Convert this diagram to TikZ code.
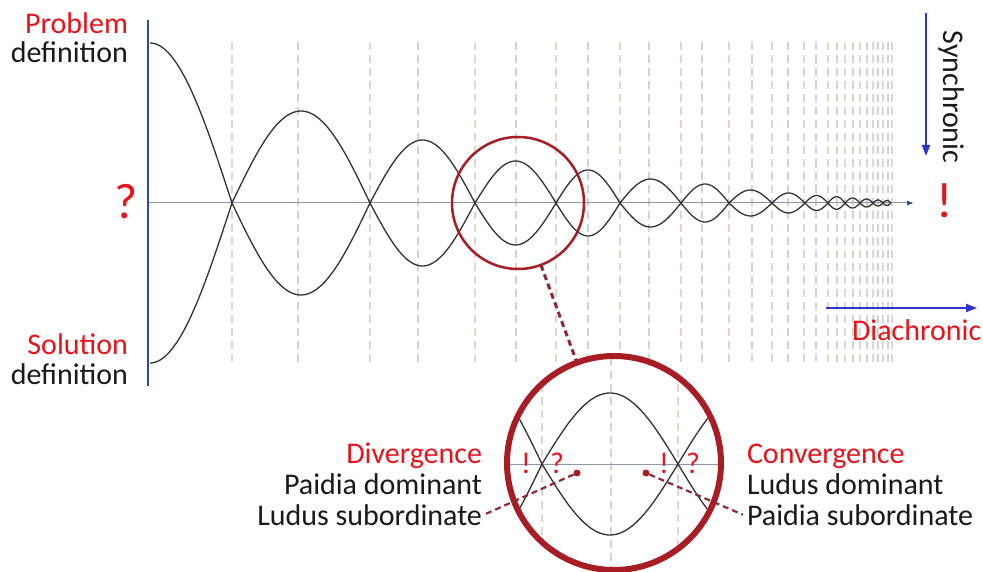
\documentclass[tikz,border=0pt]{standalone}
\usepackage{fontspec}
\setmainfont{Carlito}
\usetikzlibrary{arrows.meta}
\definecolor{txtred}{HTML}{E8141C}
\definecolor{lensred}{HTML}{A81C24}
\definecolor{dashred}{HTML}{8C2A38}
\definecolor{axisblue}{HTML}{2E4F8F}
\definecolor{arrblue}{HTML}{2F35C8}
\definecolor{midaxis}{HTML}{8A98B0}
\definecolor{gridbeige}{HTML}{E0D6CC}
\definecolor{gridgrey}{HTML}{D2D2D2}
\definecolor{wavecol}{HTML}{333333}
\definecolor{txtblack}{HTML}{1A1A1A}
\begin{document}
\begin{tikzpicture}[x=1pt,y=-1pt,
 lbl/.style={font=\fontsize{30}{34}\selectfont, inner sep=0pt, outer sep=0pt, text=txtblack},
 redlbl/.style={lbl, text=txtred},
 bigmark/.style={font=\fontsize{50}{56}\selectfont, inner sep=0pt, text=txtred},
 wave/.style={draw=wavecol, line width=1.3pt, line join=round},
 gridA/.style={draw=gridbeige, line width=1.4pt, dash pattern=on 8pt off 5pt},
 gridB/.style={draw=gridgrey, line width=1.4pt, dash pattern=on 8pt off 5pt},
 flowarrow/.style={draw=arrblue, line width=2pt, -{Triangle[length=11pt,width=8pt]}},
 callout/.style={draw=dashred, line width=2.2pt, dash pattern=on 6pt off 4pt},
 midline/.style={draw=midaxis, line width=1pt},
]
\fill[white] (0,0) rectangle (983,572);
\useasboundingbox (0,0) rectangle (983,572);

% dashed grid lines
\foreach \gx in {232,370,475,556,620,681,729,772,804,828,845,860,873,883,892}
  \draw[gridA] (\gx,42) -- (\gx,362);
\foreach \gx in {298,418,516,588,649,702,752,788,816,837,853,867,878,888}
  \draw[gridB] (\gx,42) -- (\gx,362);

% axes
\coordinate (vtop) at (148,20);
\coordinate (vbot) at (148,386);
\coordinate (hstart) at (148,203);
\coordinate (hend) at (914,203);
\draw[midline, -{Latex[length=7pt,width=5pt,color=axisblue]}] (hstart) -- (hend);
\draw[draw=axisblue, line width=2.5pt] (vtop) -- (vbot);

% waves
\draw[wave] plot[domain=0:90,samples=40] ({150+82*(\x/90)},{203-160*cos(\x)});
\draw[wave] plot[domain=0:90,samples=40] ({150+82*(\x/90)},{203+160*cos(\x)});
\foreach \xa/\xb/\amp/\ns in {232/370/92/50,370/475/63/44,475/556/42/36,556/620/33/30,620/681/24/28,681/729/19/24,729/772/13/20,772/805/10/18,805/828/7.5/14,828/845/6.3/12,845/860/5/12,860/873/4/10,873/883/3/10,883/891/2.5/9}{
  \draw[wave] plot[domain=0:180,samples=\ns] ({\xa+(\xb-\xa)*(\x/180)},{203-\amp*sin(\x)});
  \draw[wave] plot[domain=0:180,samples=\ns] ({\xa+(\xb-\xa)*(\x/180)},{203+\amp*sin(\x)});
}

% lens on the main picture
\node[circle, draw=lensred, line width=2.5pt, minimum size=132pt, inner sep=0pt, outer sep=0pt] (lens) at (518,203) {};

% inset
\fill[white] (614,463) circle (107);
\begin{scope}
  \clip (614,463) circle (104);
  \draw[gridA] (542,345) -- (542,580);
  \draw[gridB] (611,345) -- (611,580);
  \draw[gridA] (678,345) -- (678,580);
  \draw[midline] (500,464) -- (730,464);
  \draw[wave] plot[domain=0:180,samples=60] ({406+136*(\x/180)},{464-90*sin(\x)});
  \draw[wave] plot[domain=0:180,samples=60] ({406+136*(\x/180)},{464+90*sin(\x)});
  \draw[wave] plot[domain=0:180,samples=60] ({542+136*(\x/180)},{464-71*sin(\x)});
  \draw[wave] plot[domain=0:180,samples=60] ({542+136*(\x/180)},{464+71*sin(\x)});
  \draw[wave] plot[domain=0:180,samples=60] ({678+136*(\x/180)},{464-72*sin(\x)});
  \draw[wave] plot[domain=0:180,samples=60] ({678+136*(\x/180)},{464+72*sin(\x)});
\end{scope}
\node[circle, draw=lensred, line width=6pt, minimum size=214pt, inner sep=0pt, outer sep=0pt] (inset) at (614,463) {};

% connector lens -> inset
\draw[callout, line width=3pt] (lens) -- (inset);

% marks inside the inset
\node[redlbl, anchor=base] (ex1) at (526,473) {!};
\node[redlbl, anchor=base] (qu1) at (557,473) {?};
\node[redlbl, anchor=base] (ex2) at (664,473) {!};
\node[redlbl, anchor=base] (qu2) at (693,473) {?};
\node[circle, fill=lensred, inner sep=0pt, minimum size=7pt] (dotL) at (577,473) {};
\node[circle, fill=lensred, inner sep=0pt, minimum size=7pt] (dotR) at (646,473) {};

% side labels
\node[redlbl, anchor=base east] (prob) at (128,34) {Problem};
\node[lbl, anchor=base east] (probdef) at (128,63) {definition};
\node[redlbl, anchor=base east] (sol) at (128,354) {Solution};
\node[lbl, anchor=base east] (soldef) at (128,384) {definition};
\node[bigmark, anchor=base] (qmain) at (126,219) {?};
\node[bigmark, anchor=base] (emain) at (945,218) {!};

% synchronic / diachronic
\coordinate (syntop) at (926,13);
\coordinate (synbot) at (926,156);
\draw[flowarrow] (syntop) -- (synbot);
\node[lbl, rotate=-90, anchor=center] (syn) at (951,97) {Synchronic};
\coordinate (diastart) at (826,308);
\coordinate (diaend) at (977,308);
\draw[flowarrow] (diastart) -- (diaend);
\node[redlbl, anchor=base west] (dia) at (852,340) {Diachronic};

% divergence / convergence texts
\node[redlbl, anchor=base east] (div) at (482,463) {Divergence};
\node[lbl, anchor=base east] (paidom) at (482,494) {Paidia dominant};
\node[lbl, anchor=base east] (ludsub) at (482,525) {Ludus subordinate};
\node[redlbl, anchor=base west] (conv) at (747,463) {Convergence};
\node[lbl, anchor=base west] (luddom) at (747,494) {Ludus dominant};
\node[lbl, anchor=base west] (paisub) at (747,525) {Paidia subordinate};

\draw[callout] (dotL) -- ([xshift=2pt]ludsub.east);
\draw[callout] (dotR) -- ([xshift=-4pt]paisub.west);
\end{tikzpicture}
\end{document}
